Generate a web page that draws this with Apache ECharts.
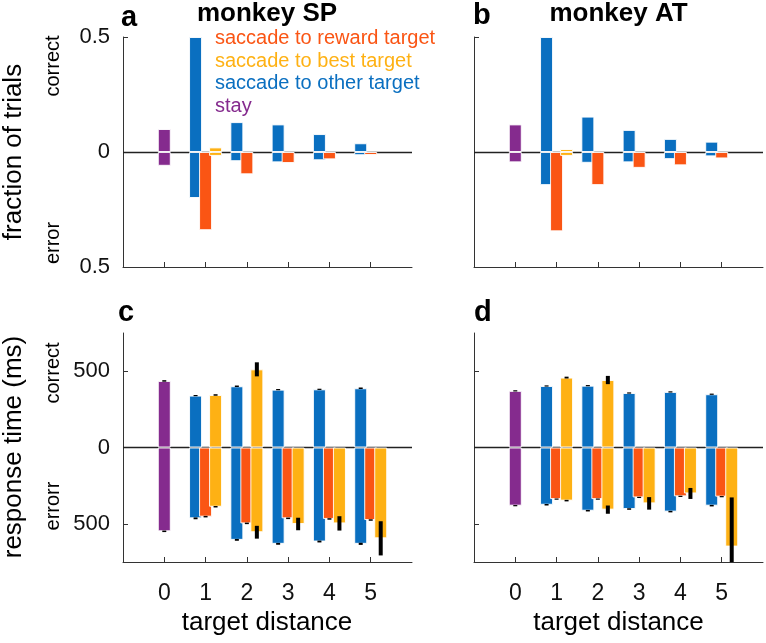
<!DOCTYPE html>
<html><head><meta charset="utf-8">
<script src="https://cdn.jsdelivr.net/npm/echarts@6/dist/echarts.min.js"></script>
<style>html,body{margin:0;padding:0;background:#fff}#c{width:766px;height:643px}</style>
</head><body><div id="c"></div>
<script>
// x categories (target distance), only 0..5 carry data; -1 and 6 pad the axis ends
const xCategories = ['-1','0','1','2','3','4','5','6'];
const distances = [0, 1, 2, 3, 4, 5];

// ---- panel a: monkey SP, fraction of trials (correct up, error down) ----
const spFracStayCorrect  = [0.10, null, null, null, null, null];
const spFracStayError    = [0.06, null, null, null, null, null];
const spFracOtherCorrect = [null, 0.50, 0.13, 0.12, 0.078, 0.038];
const spFracOtherError   = [null, 0.20, 0.04, 0.045, 0.036, 0.014];
const spFracRewardError  = [null, 0.34, 0.097, 0.048, 0.032, 0.013];
const spFracBestCorrect  = [null, 0.02, null, null, null, null];
const spFracBestError    = [null, 0.017, null, null, null, null];

// ---- panel b: monkey AT, fraction of trials ----
const atFracStayCorrect  = [0.12, null, null, null, null, null];
const atFracStayError    = [0.045, null, null, null, null, null];
const atFracOtherCorrect = [null, 0.50, 0.154, 0.096, 0.057, 0.045];
const atFracOtherError   = [null, 0.144, 0.047, 0.045, 0.031, 0.019];
const atFracRewardError  = [null, 0.345, 0.144, 0.069, 0.058, 0.028];
const atFracBestCorrect  = [null, 0.013, null, null, null, null];
const atFracBestError    = [null, 0.017, null, null, null, null];

// ---- panel c: monkey SP, response time (ms) ----
const spRtStayCorrect     = [436, null, null, null, null, null];
const spRtStayCorrectSem  = [5, null, null, null, null, null];
const spRtStayError       = [549, null, null, null, null, null];
const spRtStayErrorSem    = [5, null, null, null, null, null];
const spRtOtherCorrect    = [null, 340, 401, 379, 381, 388];
const spRtOtherCorrectSem = [null, 4, 5, 4, 4, 5];
const spRtOtherError      = [null, 464, 605, 631, 616, 631];
const spRtOtherErrorSem   = [null, 6, 6, 6, 6, 7];
const spRtRewardError     = [null, 453, 497, 464, 468, 475];
const spRtRewardErrorSem  = [null, 5, 5, 5, 5, 5];
const spRtBestCorrect     = [null, 344, 512, null, null, null];
const spRtBestCorrectSem  = [null, 5, 46, null, null, null];
const spRtBestError       = [null, 388, 555, 501, 497, 595];
const spRtBestErrorSem    = [null, 5, 42, 41, 47, 112];

// ---- panel d: monkey AT, response time (ms) ----
const atRtStayCorrect     = [371, null, null, null, null, null];
const atRtStayCorrectSem  = [4, null, null, null, null, null];
const atRtStayError       = [381, null, null, null, null, null];
const atRtStayErrorSem    = [4, null, null, null, null, null];
const atRtOtherCorrect    = [null, 403, 405, 357, 364, 349];
const atRtOtherCorrectSem = [null, 4, 4, 4, 4, 4];
const atRtOtherError      = [null, 375, 414, 403, 420, 381];
const atRtOtherErrorSem   = [null, 5, 5, 5, 5, 5];
const atRtRewardError     = [null, 338, 338, 327, 320, 322];
const atRtRewardErrorSem  = [null, 4, 4, 4, 4, 4];
const atRtBestCorrect     = [null, 458, 442, null, null, null];
const atRtBestCorrectSem  = [null, 6, 27, null, null, null];
const atRtBestError       = [null, 348, 407, 366, 301, 649];
const atRtBestErrorSem    = [null, 5, 27, 41, 36, 322];

// labels
const legendLabels = ['saccade to reward target', 'saccade to best target', 'saccade to other target', 'stay'];
const panelLetters = ['a', 'b', 'c', 'd'];
const panelTitles = ['monkey SP', 'monkey AT'];
const fracTicks = [-0.5, 0, 0.5];
const rtTicks = [-500, 0, 500];

// ---- styling / layout ----
const COLORS = { other: '#0A6FC0', reward: '#FA5514', best: '#FEB114', stay: '#852B8E' };
const FONT = '"Liberation Sans", Arial, Helvetica, sans-serif';
const AXIS_COLOR = '#333';
const BAR_W = 13, BAR_GAP = '-23%', SLOT_STEP = 10;
const layout = [
  { left: 123, top: 37, width: 289, height: 230 },
  { left: 474, top: 37, width: 289, height: 230 },
  { left: 123, top: 333, width: 289, height: 229 },
  { left: 474, top: 333, width: 289, height: 229 }
];

const panels = [
  { stayC: spFracStayCorrect, stayE: spFracStayError, otherC: spFracOtherCorrect, otherE: spFracOtherError,
    rewardE: spFracRewardError, bestC: spFracBestCorrect, bestE: spFracBestError, range: [-0.5, 0.5], ticks: fracTicks, yLabels: true, xLabels: false },
  { stayC: atFracStayCorrect, stayE: atFracStayError, otherC: atFracOtherCorrect, otherE: atFracOtherError,
    rewardE: atFracRewardError, bestC: atFracBestCorrect, bestE: atFracBestError, range: [-0.5, 0.5], ticks: fracTicks, yLabels: false, xLabels: false },
  { stayC: spRtStayCorrect, stayE: spRtStayError, otherC: spRtOtherCorrect, otherE: spRtOtherError,
    rewardE: spRtRewardError, bestC: spRtBestCorrect, bestE: spRtBestError,
    sem: { stayC: spRtStayCorrectSem, stayE: spRtStayErrorSem, otherC: spRtOtherCorrectSem, otherE: spRtOtherErrorSem,
           rewardE: spRtRewardErrorSem, bestC: spRtBestCorrectSem, bestE: spRtBestErrorSem },
    range: [-750, 750], ticks: rtTicks, yLabels: true, xLabels: true },
  { stayC: atRtStayCorrect, stayE: atRtStayError, otherC: atRtOtherCorrect, otherE: atRtOtherError,
    rewardE: atRtRewardError, bestC: atRtBestCorrect, bestE: atRtBestError,
    sem: { stayC: atRtStayCorrectSem, stayE: atRtStayErrorSem, otherC: atRtOtherCorrectSem, otherE: atRtOtherErrorSem,
           rewardE: atRtRewardErrorSem, bestC: atRtBestCorrectSem, bestE: atRtBestErrorSem },
    range: [-750, 750], ticks: rtTicks, yLabels: false, xLabels: true }
];

const pad = arr => [null].concat(arr, [null]);
const neg = arr => arr.map(v => v == null ? null : -v);
const inRange = i => i >= 1 && i <= 6;

const grids = [], xAxes = [], yAxes = [], series = [];

panels.forEach((p, g) => {
  grids.push(Object.assign({ containLabel: false, outerBoundsMode: 'none' }, layout[g]));
  xAxes.push({
    type: 'category', gridIndex: g, data: xCategories, boundaryGap: false,
    axisLine: { show: true, onZero: false, lineStyle: { color: AXIS_COLOR, width: 1 } },
    axisTick: { show: true, inside: true, length: 5, interval: (i) => inRange(i), lineStyle: { color: AXIS_COLOR } },
    axisLabel: { show: p.xLabels, interval: (i) => inRange(i), margin: 20, fontSize: 23, fontFamily: FONT, color: '#111' },
    splitLine: { show: false }
  });
  yAxes.push({
    type: 'value', gridIndex: g, min: p.range[0], max: p.range[1],
    axisLine: { show: true, onZero: false, lineStyle: { color: AXIS_COLOR, width: 1 } },
    axisTick: { show: true, inside: true, length: 5, customValues: p.ticks, lineStyle: { color: AXIS_COLOR } },
    axisLabel: { show: p.yLabels, customValues: p.ticks, formatter: v => String(Math.abs(v)), margin: 13,
                 fontSize: 22, fontFamily: FONT, color: '#111' },
    splitLine: { show: false }
  });
  // zero line
  series.push({
    type: 'line', xAxisIndex: g, yAxisIndex: g, data: pad(distances.map(() => null)), silent: true, z: 1,
    markLine: { z: 1, silent: true, symbol: ['none', 'none'], label: { show: false },
      lineStyle: { color: '#222', width: 1.4, type: 'solid' }, data: [{ yAxis: 0 }] }
  });
  const bar = (values, color, stack) => ({
    type: 'bar', xAxisIndex: g, yAxisIndex: g, stack: stack + g, data: pad(values),
    barWidth: BAR_W, barGap: BAR_GAP, silent: true, z: 2,
    itemStyle: { color: color, borderColor: 'rgba(255,255,255,0.9)', borderWidth: 1 }
  });
  series.push(bar(p.otherC, COLORS.other, 'o'));
  series.push(bar(neg(p.otherE), COLORS.other, 'o'));
  series.push(bar(p.stayC, COLORS.stay, 'm'));
  series.push(bar(neg(p.stayE), COLORS.stay, 'm'));
  series.push(bar(neg(p.rewardE), COLORS.reward, 'm'));
  series.push(bar(p.bestC, COLORS.best, 'b'));
  series.push(bar(neg(p.bestE), COLORS.best, 'b'));

  if (p.sem) {
    const eb = [];
    const add = (vals, sems, sign, slot) => {
      vals.forEach((v, i) => {
        if (v != null && sems[i] != null) eb.push([i + 1, sign * v, sems[i], slot]);
      });
    };
    add(p.otherC, p.sem.otherC, 1, 0);
    add(p.otherE, p.sem.otherE, -1, 0);
    add(p.stayC, p.sem.stayC, 1, 1);
    add(p.stayE, p.sem.stayE, -1, 1);
    add(p.rewardE, p.sem.rewardE, -1, 1);
    add(p.bestC, p.sem.bestC, 1, 2);
    add(p.bestE, p.sem.bestE, -1, 2);
    series.push({
      type: 'custom', xAxisIndex: g, yAxisIndex: g, data: eb, clip: true, silent: true, z: 5,
      encode: { x: 0, y: 1 },
      renderItem: (params, api) => {
        const x = api.value(0), v = api.value(1), e = api.value(2), slot = api.value(3);
        const off = (slot - 1) * SLOT_STEP;
        const a = api.coord([x, v - e]), b = api.coord([x, v + e]);
        return { type: 'line', shape: { x1: a[0] + off, y1: a[1], x2: b[0] + off, y2: b[1] },
                 style: { stroke: '#000', lineWidth: 4 } };
      }
    });
  }
});

const txt = (text, x, y, opts) => Object.assign({
  type: 'text', x: x, y: y, silent: true,
  style: Object.assign({ text: text, fill: '#000', font: '20px ' + FONT, align: 'center', verticalAlign: 'middle' }, opts.style || {})
}, opts.el || {});

const graphics = [
  txt(panelLetters[0], 121, 18, { style: { font: 'bold 29px ' + FONT, align: 'left' } }),
  txt(panelLetters[1], 473, 16, { style: { font: 'bold 29px ' + FONT, align: 'left' } }),
  txt(panelLetters[2], 118, 313, { style: { font: 'bold 29px ' + FONT, align: 'left' } }),
  txt(panelLetters[3], 474, 313, { style: { font: 'bold 29px ' + FONT, align: 'left' } }),
  txt(panelTitles[0], 267, 13.5, { style: { font: 'bold 26px ' + FONT } }),
  txt(panelTitles[1], 618.5, 13.5, { style: { font: 'bold 26px ' + FONT } }),
  txt(legendLabels[0], 215, 38.5, { style: { font: '20px ' + FONT, align: 'left', fill: COLORS.reward } }),
  txt(legendLabels[1], 215, 61, { style: { font: '20px ' + FONT, align: 'left', fill: COLORS.best } }),
  txt(legendLabels[2], 215, 83.5, { style: { font: '20px ' + FONT, align: 'left', fill: COLORS.other } }),
  txt(legendLabels[3], 215, 106, { style: { font: '20px ' + FONT, align: 'left', fill: COLORS.stay } }),
  txt('fraction of trials', 14, 152, { style: { font: '26px ' + FONT }, el: { rotation: Math.PI / 2 } }),
  txt('response time (ms)', 14, 447, { style: { font: '26px ' + FONT }, el: { rotation: Math.PI / 2 } }),
  txt('correct', 53, 66, { style: { font: '20px ' + FONT }, el: { rotation: Math.PI / 2 } }),
  txt('error', 53, 243, { style: { font: '20px ' + FONT }, el: { rotation: Math.PI / 2 } }),
  txt('correct', 53, 373, { style: { font: '20px ' + FONT }, el: { rotation: Math.PI / 2 } }),
  txt('errorr', 53, 506, { style: { font: '20px ' + FONT }, el: { rotation: Math.PI / 2 } }),
  txt('target distance', 267, 623, { style: { font: '26px ' + FONT } }),
  txt('target distance', 618.5, 623, { style: { font: '26px ' + FONT } })
];

const chart = echarts.init(document.getElementById('c'), null, { renderer: 'canvas' });
chart.setOption({
  animation: false,
  backgroundColor: '#fff',
  grid: grids, xAxis: xAxes, yAxis: yAxes, series: series,
  graphic: graphics
});
</script>
</body></html>
